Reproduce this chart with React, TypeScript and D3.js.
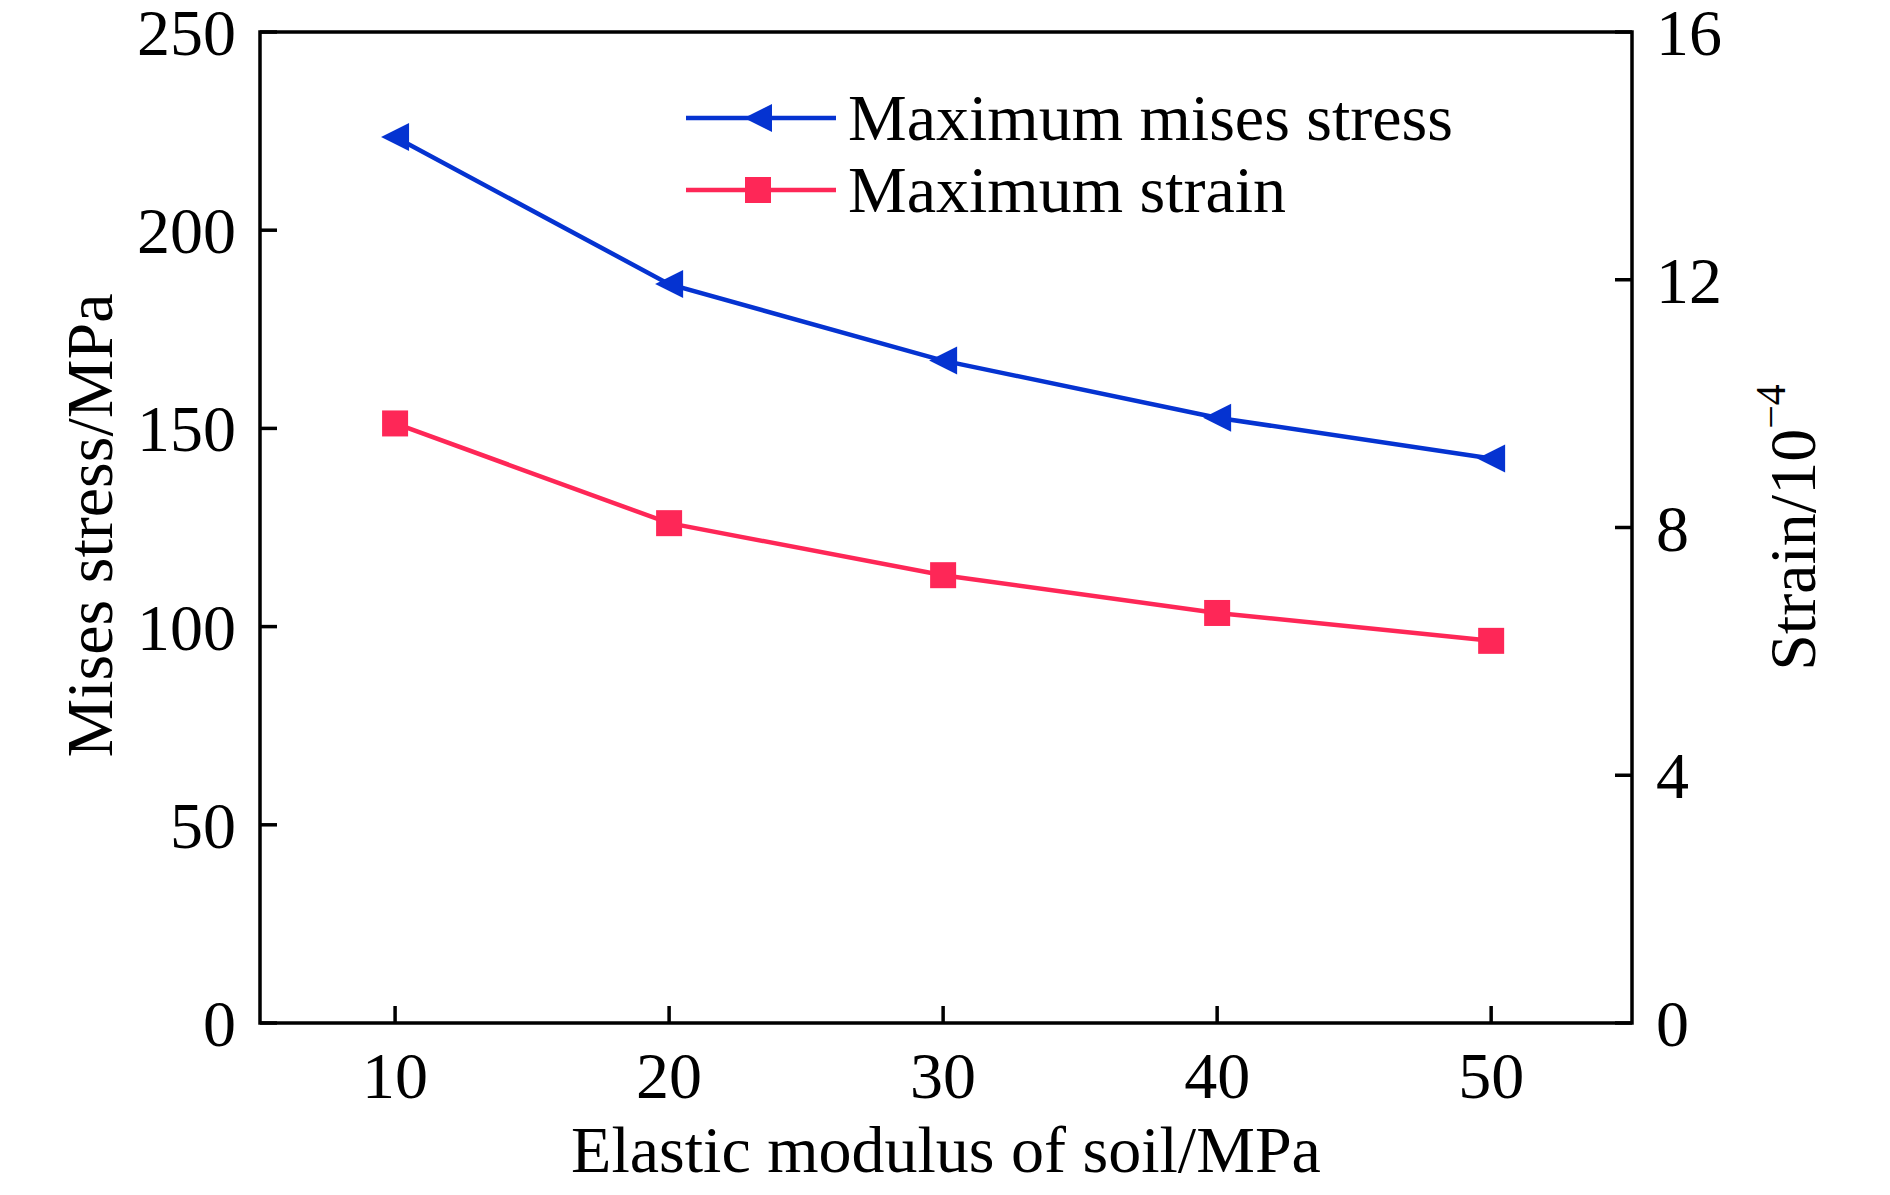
import React from "react";
import * as d3 from "d3";

const modulus = [10, 20, 30, 40, 50];
const stress = [223.5, 186.4, 167.1, 152.7, 142.4];
const strain = [9.68, 8.07, 7.23, 6.62, 6.17];
const xTicks = [10, 20, 30, 40, 50];
const yLeftTicks = [0, 50, 100, 150, 200, 250];
const yRightTicks = [0, 4, 8, 12, 16];
const seriesNames = ["Maximum mises stress", "Maximum strain"];

const W = 1890;
const H = 1195;
const L = 260, R = 1632, T = 32, B = 1023;
const BLUE = "#0533d1";
const RED = "#fe2757";
const FONT = "'Liberation Serif', 'Times New Roman', serif";
const FS = 66;

export default function App() {
  const x = d3.scaleLinear().domain([5.07, 55.14]).range([L, R]);
  const yL = d3.scaleLinear().domain([0, 250]).range([B, T]);
  const yR = d3.scaleLinear().domain([0, 16]).range([B, T]);
  const tick = 17;
  const sw = 4.5;

  const stressLine = d3.line<number>().x((_, i) => x(modulus[i])).y((d) => yL(d))(stress) || "";
  const strainLine = d3.line<number>().x((_, i) => x(modulus[i])).y((d) => yR(d))(strain) || "";

  const tri = (cx: number, cy: number, s = 14) => `M${cx - s},${cy} L${cx + s},${cy - s} L${cx + s},${cy + s} Z`;
  const sq = 26;

  const legX1 = 686, legX2 = 836, legMid = 758;
  const legY = [118, 190];

  return (
    <svg width={W} height={H} style={{ position: "absolute", left: 0, top: 0, background: "#fff" }} fontFamily={FONT}>
      <rect x={0} y={0} width={W} height={H} fill="#fff" />
      {/* data */}
      <path d={stressLine} fill="none" stroke={BLUE} strokeWidth={sw} />
      <path d={strainLine} fill="none" stroke={RED} strokeWidth={sw} />
      {stress.map((v, i) => (
        <path key={"s" + i} d={tri(x(modulus[i]), yL(v))} fill={BLUE} />
      ))}
      {strain.map((v, i) => (
        <rect key={"r" + i} x={x(modulus[i]) - sq / 2} y={yR(v) - sq / 2} width={sq} height={sq} fill={RED} />
      ))}
      {/* frame */}
      <rect x={L} y={T} width={R - L} height={B - T} fill="none" stroke="#000" strokeWidth={3.5} />
      {/* x ticks */}
      {xTicks.map((t) => (
        <g key={"x" + t}>
          <line x1={x(t)} x2={x(t)} y1={B} y2={B - tick} stroke="#000" strokeWidth={3.5} />
          <text x={x(t)} y={1098} textAnchor="middle" fontSize={FS}>{t}</text>
        </g>
      ))}
      {yLeftTicks.map((t) => (
        <g key={"yl" + t}>
          <line x1={L} x2={L + tick} y1={yL(t)} y2={yL(t)} stroke="#000" strokeWidth={3.5} />
          <text x={236} y={yL(t) + 23} textAnchor="end" fontSize={FS}>{t}</text>
        </g>
      ))}
      {yRightTicks.map((t) => (
        <g key={"yr" + t}>
          <line x1={R} x2={R - tick} y1={yR(t)} y2={yR(t)} stroke="#000" strokeWidth={3.5} />
          <text x={1656} y={yR(t) + 23} textAnchor="start" fontSize={FS}>{t}</text>
        </g>
      ))}
      {/* axis titles */}
      <text x={(L + R) / 2} y={1172} textAnchor="middle" fontSize={FS}>Elastic modulus of soil/MPa</text>
      <text transform={`translate(112,${(T + B) / 2 - 2}) rotate(-90)`} textAnchor="middle" fontSize={FS}>Mises stress/MPa</text>
      <text transform={`translate(1815,${(T + B) / 2}) rotate(-90)`} textAnchor="middle" fontSize={FS}>
        Strain/10<tspan fontSize={42} dy={-30}>−4</tspan>
      </text>
      {/* legend */}
      <line x1={legX1} x2={legX2} y1={legY[0]} y2={legY[0]} stroke={BLUE} strokeWidth={sw} />
      <path d={tri(legMid, legY[0])} fill={BLUE} />
      <text x={848} y={legY[0] + 22} fontSize={FS}>{seriesNames[0]}</text>
      <line x1={legX1} x2={legX2} y1={legY[1]} y2={legY[1]} stroke={RED} strokeWidth={sw} />
      <rect x={legMid - sq / 2} y={legY[1] - sq / 2} width={sq} height={sq} fill={RED} />
      <text x={848} y={legY[1] + 22} fontSize={FS}>{seriesNames[1]}</text>
    </svg>
  );
}
